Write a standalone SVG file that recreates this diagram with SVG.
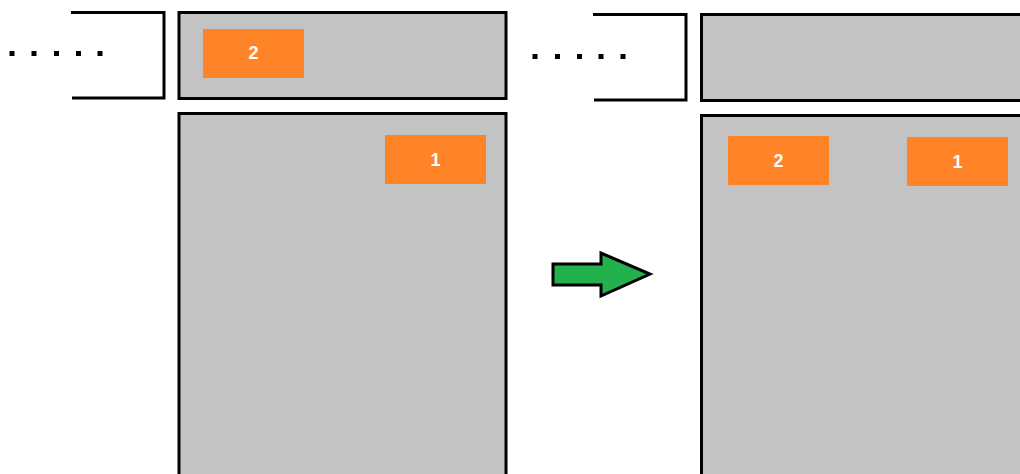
<svg xmlns="http://www.w3.org/2000/svg" width="1020" height="474" viewBox="0 0 1020 474">
<style>
.box{fill:#c3c3c3;stroke:#000;stroke-width:3}
.brk{fill:none;stroke:#000;stroke-width:3}
.tag{fill:#ff8327}
.lbl{font-family:"Liberation Sans",Arial,sans-serif;font-weight:bold;font-size:18px;fill:#fff;text-anchor:middle}
.dot{fill:#000}
</style>
<rect width="1020" height="474" fill="#fff"/>
<g id="left-prev">
<path class="brk" d="M71,12.5 H164 V98 H72"/>
<rect class="dot" x="9.5" y="51" width="5" height="5"/>
<rect class="dot" x="31.5" y="51" width="5" height="5"/>
<rect class="dot" x="54" y="51" width="5" height="5"/>
<rect class="dot" x="76" y="51" width="5" height="5"/>
<rect class="dot" x="97.5" y="51" width="5" height="5"/>
</g>
<g id="left-top">
<rect class="box" x="179" y="12.5" width="327" height="86"/>
</g>
<g id="left-bottom">
<rect class="box" x="179" y="113.5" width="327" height="380"/>
</g>
<g id="left-tag2">
<rect class="tag" x="203" y="29" width="101" height="49"/>
<text class="lbl" x="253.5" y="59">2</text>
</g>
<g id="left-tag1">
<rect class="tag" x="385" y="135" width="101" height="49"/>
<text class="lbl" x="435.5" y="166">1</text>
</g>
<g id="right-prev">
<path class="brk" d="M593,14.5 H686 V100 H594"/>
<rect class="dot" x="532.5" y="54" width="5" height="5"/>
<rect class="dot" x="555" y="54" width="5" height="5"/>
<rect class="dot" x="577" y="54" width="5" height="5"/>
<rect class="dot" x="598.5" y="54" width="5" height="5"/>
<rect class="dot" x="620.5" y="54" width="5" height="5"/>
</g>
<g id="right-top">
<rect class="box" x="701.5" y="14.5" width="340" height="86"/>
</g>
<g id="right-bottom">
<rect class="box" x="701.5" y="115.5" width="340" height="380"/>
</g>
<g id="right-tag2">
<rect class="tag" x="728" y="136" width="101" height="49"/>
<text class="lbl" x="778.5" y="167">2</text>
</g>
<g id="right-tag1">
<rect class="tag" x="907" y="137" width="101" height="49"/>
<text class="lbl" x="957.5" y="168">1</text>
</g>
<g id="connectors">
<path d="M553,264 H601 V253 L650,274 L601,296 V285 H553 Z" fill="#22b14c" stroke="#000" stroke-width="3" stroke-linejoin="miter"/>
</g>
</svg>
